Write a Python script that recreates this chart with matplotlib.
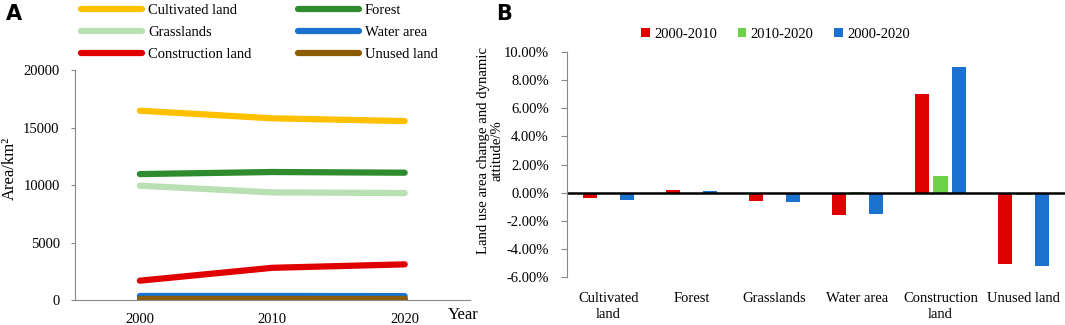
import numpy as np
import matplotlib
matplotlib.use("Agg")
from matplotlib import pyplot as plt
from matplotlib.ticker import FuncFormatter

plt.rcParams['font.family'] = ['Liberation Serif', 'DejaVu Serif']
plt.rcParams['font.size'] = 10.5

# panel A data
years = [2000, 2010, 2020]
cultivated = [16460, 15800, 15560]
forest = [10950, 11130, 11070]
grassland = [9940, 9360, 9300]
water = [350, 350, 340]
construction = [1680, 2800, 3100]
unused = [70, 70, 70]

# panel B data
categories = ["Cultivated\nland", "Forest", "Grasslands", "Water area",
              "Construction\nland", "Unused land"]
p1 = [-0.40, 0.21, -0.61, -1.62, 7.02, -5.09]   # 2000-2010
p2 = [-0.05, 0.01, -0.02, 0.08, 1.15, -0.19]    # 2010-2020
p3 = [-0.52, 0.15, -0.63, -1.50, 8.95, -5.19]   # 2000-2020
periods = ["2000-2010", "2010-2020", "2000-2020"]

fig = plt.figure(figsize=(10.65, 3.25), dpi=100)

# ---- A
ax = fig.add_axes([0.0704, 0.0769, 0.3705, 0.7077])
series = [("Cultivated land", cultivated, "#FFC000"),
          ("Forest", forest, "#2E8B2E"),
          ("Grasslands", grassland, "#B8E0B2"),
          ("Water area", water, "#1B72CE"),
          ("Construction land", construction, "#E00000"),
          ("Unused land", unused, "#8C5C00")]
lines = {}
for name, vals, c in series:
    lines[name], = ax.plot(years, vals, color=c, lw=4.5, solid_capstyle='round', label=name)
ax.set_xlim(1995.1, 2024.9)
ax.set_ylim(0, 20000)
ax.set_yticks([0, 5000, 10000, 15000, 20000])
ax.set_xticks(years)
for s in ['top', 'right']:
    ax.spines[s].set_visible(False)
for s in ['left', 'bottom']:
    ax.spines[s].set_color('#888888')
ax.tick_params(axis='y', length=3, color='#888888', pad=8)
ax.tick_params(axis='x', length=0, pad=9)
ax.set_ylabel("Area/km²", fontsize=12)
ax.yaxis.set_label_coords(-0.145, 0.574)
fig.text(0.42, 0.03, "Year", fontsize=12, ha='left', va='center')
# row-wise order for a 2-column legend
order = ["Cultivated land", "Grasslands", "Construction land",
         "Forest", "Water area", "Unused land"]
ax.legend([lines[n] for n in order], order, loc='lower left',
          bbox_to_anchor=(0.0, 1.013), ncol=2, frameon=False,
          handlelength=4.2, columnspacing=3.2, labelspacing=0.6, handletextpad=0.4,
          borderaxespad=0)
fig.text(0.006, 0.94, "A", fontsize=15, fontweight='bold', family='DejaVu Sans')

# ---- B
bx = fig.add_axes([0.5324, 0.1477, 0.4676, 0.692])
x = np.arange(len(categories))
w = 0.18
colors = ["#E00000", "#6CD24A", "#1B72CE"]
for i, (vals, lab) in enumerate(zip([p1, p2, p3], periods)):
    bx.bar(x + (i - 1) * 0.223, vals, width=w, color=colors[i], label=lab)
bx.axhline(0, color='black', lw=1.8)
bx.set_xlim(-0.5, len(categories) - 0.5)
bx.set_ylim(-6, 10)
bx.set_yticks(np.arange(-6, 11, 2))
bx.yaxis.set_major_formatter(FuncFormatter(lambda v, p: f"{v:.2f}%"))
bx.set_xticks(x)
bx.set_xticklabels(categories, fontsize=10.5, linespacing=1.25)
for s in ['top', 'right', 'bottom']:
    bx.spines[s].set_visible(False)
bx.spines['left'].set_color('#888888')
bx.tick_params(axis='y', length=4, color='#888888', pad=9, labelsize=10.5)
bx.tick_params(axis='x', length=0, pad=11)
bx.set_ylabel("Land use area change and dynamic\nattitude/%",
              linespacing=1.1, fontsize=10.6)
bx.yaxis.set_label_coords(-0.127, 0.564)
bx.legend(loc='center', bbox_to_anchor=(0.419, 1.0 + (52 - 34) / 225), ncol=3,
          frameon=False, handlelength=0.6, handleheight=0.6, handletextpad=0.3,
          columnspacing=1.4, borderaxespad=0, fontsize=10.5)
fig.text(0.466, 0.94, "B", fontsize=15, fontweight='bold', family='DejaVu Sans')

fig.savefig("out.png", dpi=100)
